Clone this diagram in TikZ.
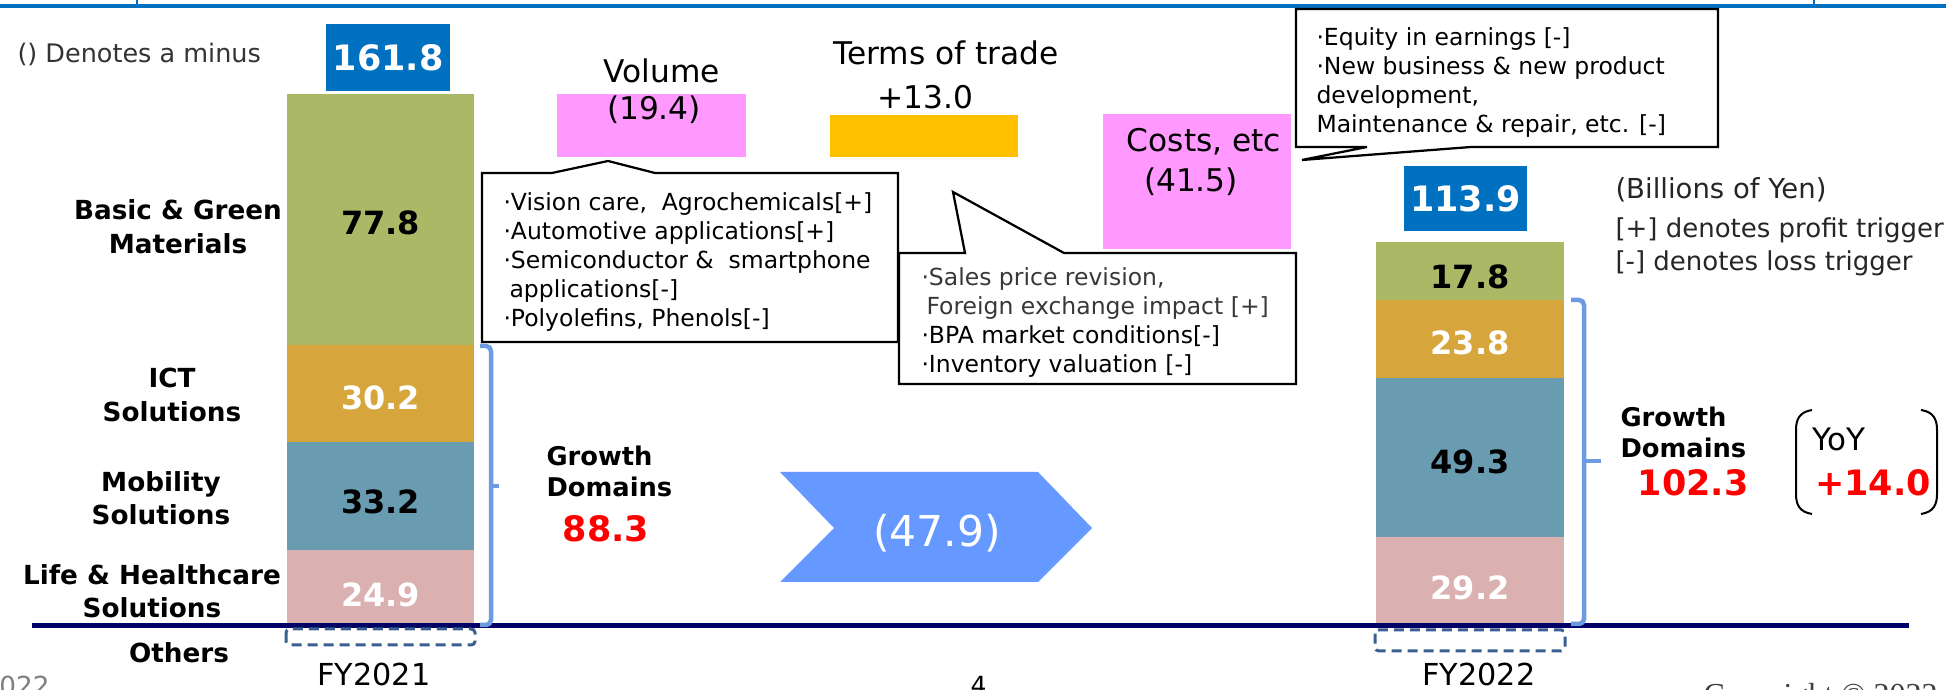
\documentclass[tikz,border=0pt]{standalone}
\usepackage{fontspec}
\setmainfont{DejaVu Sans}
\setsansfont{DejaVu Sans}
\newfontfamily\copyfont{Liberation Serif}

\definecolor{topblue}{HTML}{0070C0}
\definecolor{barGreen}{HTML}{ABB967}
\definecolor{barGold}{HTML}{D6A63C}
\definecolor{barTeal}{HTML}{699CB1}
\definecolor{barPink}{HTML}{DBB0B0}
\definecolor{lilac}{HTML}{FF99FF}
\definecolor{amber}{HTML}{FFC000}
\definecolor{chevblue}{HTML}{6699FF}
\definecolor{bracecol}{HTML}{6C9BE2}
\definecolor{navyline}{HTML}{000066}
\definecolor{dashcol}{HTML}{3C5F91}
\definecolor{numred}{HTML}{FF0000}
\definecolor{softblack}{HTML}{262626}

\newcommand\fsz[2]{\fontsize{#1}{#2}\selectfont}

\tikzset{
  seglabel/.style={inner sep=0, font=\bfseries\fsz{10.5}{13.4}, align=center},
  val/.style={inner sep=0, font=\bfseries\fsz{12.8}{14}},
  bigtext/.style={inner sep=0, font=\fsz{12.5}{15}},
  note/.style={inner sep=0, font=\fsz{9.4}{11.6}, align=left, anchor=north west},
  callout/.style={draw=black, fill=white, line width=0.9pt, line join=miter},
  brace/.style={draw=bracecol, line width=1.8pt, rounded corners=2pt},
  total/.style={fill=topblue, text=white, inner sep=0, font=\bfseries\fsz{14}{16}},
  otherbox/.style={draw=dashcol, dash pattern=on 4pt off 2.4pt, line width=1.2pt, rounded corners=1.5pt},
  gdlabel/.style={inner sep=0, font=\bfseries\fsz{10.3}{12.4}, align=left, anchor=west},
  gdvalue/.style={inner sep=0, font=\bfseries\fsz{14}{16}, text=numred},
  sidenote/.style={inner sep=0, font=\fsz{10.4}{12}, anchor=west, text=softblack},
  fylabel/.style={inner sep=0, font=\fsz{12.1}{14}, anchor=base},
}

\begin{document}
\begin{tikzpicture}[x=0.4pt,y=-0.4pt]
\useasboundingbox (0,0) rectangle (1946,690);
\fill[white] (0,0) rectangle (1946,690);

% header rule
\draw[topblue, line width=1.6pt] (0,6) -- (1946,6);
\draw[topblue, line width=0.8pt] (137,0) -- (137,6);
\draw[topblue, line width=0.8pt] (1814,0) -- (1814,6);

\node[inner sep=0, anchor=west, font=\fsz{10.2}{12}, text=black!80] (minus) at (17,55) {() Denotes a minus};

% FY2021 stacked bar
\fill[barGreen] (287,94) rectangle (474,345);
\fill[barGold]  (287,345) rectangle (474,442);
\fill[barTeal]  (287,442) rectangle (474,550);
\fill[barPink]  (287,550) rectangle (474,626);
\node[val] (a1) at (380.5,223) {77.8};
\node[val, text=white] (a2) at (380.5,398) {30.2};
\node[val] (a3) at (380.5,502) {33.2};
\node[val, text=white] (a4) at (380.5,595) {24.9};
\node[total, minimum width=49.6pt, minimum height=26.8pt] (t21) at (388,57.5) {161.8};

% FY2022 stacked bar
\fill[barGreen] (1376,242) rectangle (1564,300);
\fill[barGold]  (1376,300) rectangle (1564,378);
\fill[barTeal]  (1376,378) rectangle (1564,537);
\fill[barPink]  (1376,537) rectangle (1564,626);
\node[val] (b1) at (1470,277) {17.8};
\node[val, text=white] (b2) at (1470,343) {23.8};
\node[val] (b3) at (1470,462) {49.3};
\node[val, text=white] (b4) at (1470,588) {29.2};
\node[total, minimum width=49.2pt, minimum height=26pt] (t22) at (1465.5,198.5) {113.9};

% segment names
\node[seglabel] (sBasic) at (178,226.5) {Basic \& Green\\Materials};
\node[seglabel] (sICT) at (172,395) {ICT\\Solutions};
\node[seglabel] (sMob) at (161,498) {Mobility\\Solutions};
\node[seglabel] (sLife) at (152,591) {Life \& Healthcare\\Solutions};
\node[seglabel] (sOther) at (179,653) {Others};

% bridge items
\fill[lilac] (557,94) rectangle (746,157);
\node[bigtext] (vol) at (662,71) {Volume};
\node[bigtext] (volv) at (654,110) {(19.4)};
\fill[amber] (830,115) rectangle (1018,157);
\node[bigtext] (tot) at (946,53) {Terms of trade};
\node[bigtext] (totv) at (925,97) {+13.0};
\fill[lilac] (1103,114) rectangle (1291,249);
\node[bigtext] (cost) at (1204,142) {Costs, etc};
\node[bigtext] (costv) at (1191,182) {(41.5)};

% callouts
\draw[callout] (482,173) -- (552,173) -- (608,161) -- (655,173) -- (898,173)
  -- (898,342) -- (482,342) -- cycle;
\node[note] (c1) at (503,192.6) {·Vision care,\ \ Agrochemicals[+]\\·Automotive applications[+]\\·Semiconductor \&\ \ smartphone\\\hspace*{2.4pt}applications[-]\\·Polyolefins, Phenols[-]};

\draw[callout] (899,253) -- (965,253) -- (953,192) -- (1064,253) -- (1296,253)
  -- (1296,384) -- (899,384) -- cycle;
\node[note] (c2) at (921,267.6) {\textcolor{black!78}{·Sales price revision,}\\\hspace*{2pt}\textcolor{black!78}{Foreign exchange impact [+]}\\·BPA market conditions[-]\\·Inventory valuation [-]};

\draw[callout] (1296,9) -- (1718,9) -- (1718,147) -- (1471,147) -- (1302,160)
  -- (1367,147) -- (1296,147) -- cycle;
\node[note] (c3) at (1316,27.5) {·Equity in earnings [-]\\·New business \& new product\\development,\\Maintenance \& repair, etc. [-]};

% total change chevron
\fill[chevblue] (780,472) -- (1038,472) -- (1092,528) -- (1038,582) -- (780,582) -- (834,528) -- cycle;
\node[inner sep=0, text=white, font=\fsz{17}{20}] (delta) at (937,533) {(47.9)};

% axis line and "Others" boxes
\draw[navyline, line width=2pt] (32,626) -- (1909,626);
\draw[otherbox] (286,629) rectangle (475,645);
\draw[otherbox] (1375,630) rectangle (1565,651);

% growth-domain braces
\draw[brace] (480,346) -- (491,346) -- (491,625) -- (480,625);
\draw[brace] (491,486) -- (499,486);
\draw[brace] (1571,300) -- (1584,300) -- (1584,624) -- (1571,624);
\draw[brace] (1584,461) -- (1601,461);

\node[gdlabel] (gd1) at (546,471.5) {Growth\\Domains};
\node[gdvalue] (gd1v) at (606,529) {88.3};
\node[gdlabel] (gd2) at (1620,432.5) {Growth\\Domains};
\node[gdvalue] (gd2v) at (1693,483) {102.3};

% year-on-year
\draw[black, line width=0.8pt] (1812,410) .. controls (1799,412) and (1796,420) .. (1796,430)
  -- (1796,494) .. controls (1796,504) and (1799,512) .. (1812,514);
\draw[black, line width=0.8pt] (1921,410) .. controls (1934,412) and (1937,420) .. (1937,430)
  -- (1937,494) .. controls (1937,504) and (1934,512) .. (1921,514);
\node[inner sep=0, anchor=west, font=\fsz{12.4}{14}] (yoy) at (1812,439) {YoY};
\node[gdvalue] (yoyv) at (1873,483) {+14.0};

% unit and legend
\node[sidenote, font=\fsz{11}{13}] (unit) at (1615,190) {(Billions of Yen)};
\node[sidenote] (plus) at (1615,230) {[+] denotes profit trigger};
\node[sidenote] (minusleg) at (1615,263) {[-] denotes loss trigger};

% fiscal years
\node[fylabel] (fy21) at (374,686) {FY2021};
\node[fylabel] (fy22) at (1479,686) {FY2022};

% footer
\node[inner sep=0, anchor=base east, font=\fsz{10.5}{12}, text=black!50] (date) at (50,696) {2022};
\node[inner sep=0, anchor=base west, font=\fsz{10}{12}] (page) at (970,695) {4};
\node[inner sep=0, anchor=base west, font=\copyfont\fsz{12.8}{14}, text=black!75] (copy) at (1703,706) {Copyright © 2022};
\end{tikzpicture}
\end{document}
